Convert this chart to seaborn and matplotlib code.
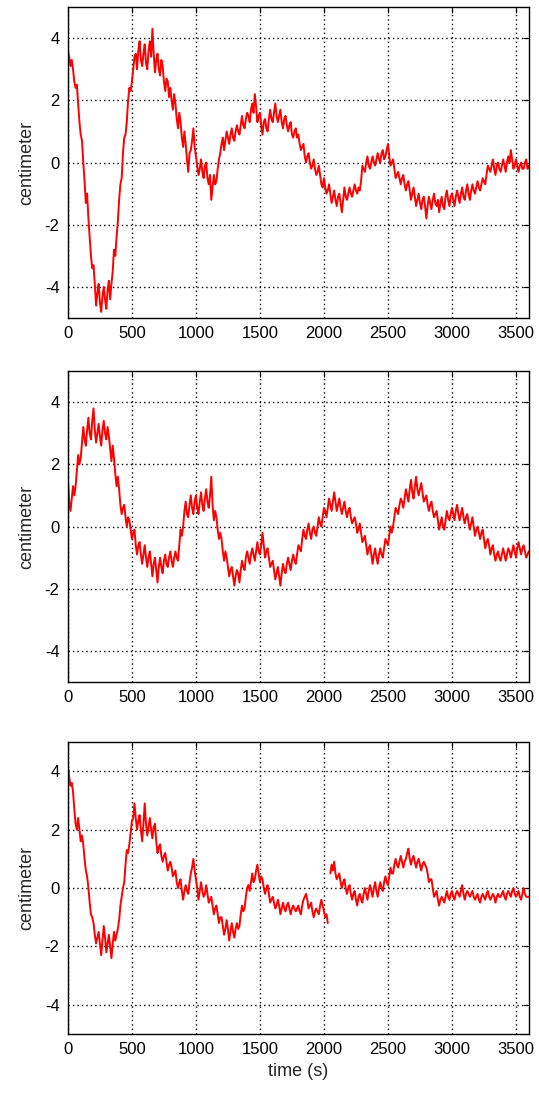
import numpy as np
import pandas as pd
import seaborn as sns
import matplotlib.pyplot as plt

# time axis: one reading every 10 s, 0 .. 3600 s
time_s = list(range(0, 3601, 10))

# displacement readings (cm)
sensor_1 = [
    3.6, 3.4, 3.1, 3.3, 3.0, 2.6, 2.4, 2.5, 1.9, 1.3, 0.9, 0.7, 0.0, -0.6, -1.3, -1.0, -1.8, -2.4, -3.0, -3.4,
    -3.3, -3.9, -4.6, -4.2, -3.9, -4.5, -4.8, -4.3, -4.0, -4.4, -4.7, -4.1, -3.8, -4.4, -3.9, -3.5, -2.8, -3.0, -2.4, -1.9,
    -1.2, -0.7, -0.5, 0.3, 0.8, 0.9, 1.3, 2.0, 2.4, 2.3, 2.6, 3.0, 3.4, 3.5, 3.0, 3.6, 3.9, 3.3, 3.1, 3.5,
    3.8, 3.2, 3.0, 3.6, 3.9, 3.4, 4.3, 3.5, 2.9, 3.3, 3.5, 3.0, 2.8, 3.3, 3.1, 2.6, 2.3, 2.7, 2.6, 2.1,
    2.4, 2.0, 1.7, 2.2, 1.9, 1.4, 1.1, 1.6, 1.3, 0.8, 0.5, 1.0, 0.6, 0.1, -0.3, 0.3, 0.4, 0.7, 1.1, 0.5,
    0.2, -0.1, -0.4, -0.2, 0.1, -0.3, -0.5, -0.1, 0.0, -0.5, -0.7, -0.4, -1.2, -0.8, -0.4, -0.7, -0.6, -0.2, 0.1, 0.3,
    0.6, 0.8, 0.4, 0.7, 1.0, 0.8, 0.6, 0.9, 1.1, 0.8, 0.7, 1.0, 1.2, 1.0, 0.9, 1.2, 1.5, 1.2, 1.1, 1.4,
    1.6, 1.5, 1.3, 1.7, 1.9, 1.6, 2.2, 1.8, 1.3, 1.5, 1.6, 1.2, 0.9, 1.3, 1.4, 1.1, 1.0, 1.4, 1.7, 1.4,
    1.3, 1.6, 1.9, 1.5, 1.3, 1.5, 1.7, 1.3, 1.1, 1.4, 1.5, 1.2, 1.0, 1.2, 1.3, 0.9, 0.8, 1.0, 1.1, 0.8,
    0.9, 0.6, 0.4, 0.5, 0.6, 0.2, 0.0, 0.2, 0.3, 0.0, -0.2, -0.1, 0.1, -0.2, -0.4, -0.3, -0.1, -0.4, -0.7, -0.8,
    -0.5, -0.8, -1.0, -0.9, -0.7, -1.0, -1.3, -1.1, -0.9, -1.2, -1.4, -1.1, -1.0, -1.3, -1.6, -1.2, -0.8, -1.1, -1.2, -1.0,
    -0.8, -1.0, -1.1, -0.9, -0.7, -0.9, -1.0, -0.8, -0.9, -0.6, -0.1, -0.2, -0.3, 0.0, 0.2, -0.1, -0.2, 0.0, 0.2, 0.0,
    -0.1, 0.1, 0.3, 0.1, 0.0, 0.3, 0.4, 0.1, 0.2, 0.4, 0.6, 0.2, -0.1, 0.0, 0.1, -0.2, -0.5, -0.4, -0.3, -0.5,
    -0.7, -0.5, -0.4, -0.7, -0.9, -0.7, -0.6, -0.9, -1.2, -1.0, -0.8, -1.1, -1.4, -1.2, -1.0, -1.3, -1.5, -1.2, -1.1, -1.4,
    -1.8, -1.4, -1.1, -1.3, -1.5, -1.2, -1.0, -1.3, -1.4, -1.2, -1.6, -1.3, -1.1, -1.4, -1.5, -1.1, -0.9, -1.2, -1.4, -1.1,
    -1.0, -1.2, -1.4, -1.1, -0.9, -1.1, -1.3, -1.0, -0.8, -1.1, -1.2, -0.9, -0.7, -1.0, -1.2, -0.9, -0.7, -0.9, -1.0, -0.8,
    -0.6, -0.8, -0.9, -0.7, -0.5, -0.6, -0.7, -0.4, -0.1, -0.2, -0.3, -0.1, 0.1, -0.2, -0.4, -0.1, 0.0, -0.2, -0.3, -0.1,
    0.1, -0.1, -0.3, 0.0, 0.2, 0.0, 0.4, 0.1, -0.2, -0.1, 0.1, -0.1, -0.3, -0.1, 0.0, -0.2, -0.2, 0.0, 0.1, -0.2,
    -0.1,
]

sensor_2 = [
    1.5, 0.8, 0.5, 0.9, 1.3, 1.0, 1.3, 1.8, 2.3, 2.0, 2.2, 2.7, 3.2, 2.8, 2.6, 3.1, 3.5, 3.0, 2.8, 3.4,
    3.8, 3.1, 2.7, 3.0, 3.3, 2.9, 2.6, 3.1, 3.4, 3.0, 2.8, 3.2, 2.9, 2.5, 2.1, 2.6, 2.2, 1.7, 1.3, 1.6,
    1.2, 0.7, 0.4, 0.6, 0.7, 0.3, 0.0, 0.3, 0.2, -0.1, -0.4, -0.2, -0.1, -0.6, -0.9, -0.6, -0.5, -0.9, -1.2, -0.9,
    -0.6, -1.0, -1.3, -1.0, -0.8, -1.2, -1.6, -1.2, -1.0, -1.4, -1.8, -1.3, -1.0, -1.3, -1.5, -1.1, -0.9, -1.2, -1.3, -1.0,
    -0.8, -1.1, -1.3, -1.0, -0.8, -1.0, -1.1, -0.6, -0.1, -0.3, 0.0, 0.5, 0.8, 0.4, 0.3, 0.7, 1.0, 0.6, 0.4, 0.8,
    1.0, 0.6, 0.4, 0.8, 1.1, 0.7, 0.5, 0.9, 1.2, 0.8, 0.6, 1.0, 1.6, 0.7, 0.2, 0.5, 0.3, -0.1, -0.4, -0.2,
    -0.4, -0.8, -1.1, -0.8, -1.0, -1.3, -1.6, -1.4, -1.3, -1.6, -1.9, -1.6, -1.4, -1.5, -1.8, -1.4, -1.1, -1.3, -1.4, -1.0,
    -0.8, -1.0, -1.2, -0.9, -0.7, -0.9, -1.1, -0.8, -0.5, -0.8, -0.9, -0.6, -0.2, -0.6, -1.0, -0.8, -0.7, -1.0, -1.3, -1.2,
    -1.1, -1.4, -1.7, -1.5, -1.3, -1.6, -1.9, -1.5, -1.2, -1.4, -1.5, -1.2, -1.0, -1.2, -1.4, -1.1, -0.9, -1.1, -1.2, -0.9,
    -0.6, -0.7, -0.8, -0.4, -0.1, -0.3, -0.4, -0.1, 0.1, -0.2, -0.4, -0.1, 0.0, -0.2, -0.3, 0.0, 0.3, 0.1, 0.0, 0.3,
    0.6, 0.5, 0.3, 0.6, 0.9, 0.7, 0.5, 0.8, 1.1, 0.8, 0.5, 0.7, 0.9, 0.6, 0.4, 0.6, 0.8, 0.5, 0.3, 0.5,
    0.6, 0.3, 0.1, 0.2, 0.3, 0.1, -0.2, -0.1, 0.1, -0.2, -0.5, -0.4, -0.3, -0.6, -0.9, -0.7, -0.6, -0.9, -1.2, -0.9,
    -0.7, -1.0, -1.2, -0.9, -0.7, -0.9, -1.0, -0.7, -0.4, -0.5, -0.6, -0.3, 0.0, -0.2, 0.0, 0.3, 0.6, 0.5, 0.4, 0.7,
    0.9, 0.8, 0.6, 0.9, 1.2, 1.0, 0.8, 1.2, 1.5, 1.1, 0.9, 1.3, 1.6, 1.2, 1.0, 1.2, 1.4, 1.1, 0.8, 0.9,
    1.0, 0.7, 0.5, 0.7, 0.8, 0.5, 0.3, 0.4, 0.5, 0.2, -0.1, 0.1, 0.3, 0.0, -0.1, 0.2, 0.5, 0.3, 0.2, 0.4,
    0.6, 0.4, 0.2, 0.5, 0.7, 0.4, 0.2, 0.4, 0.6, 0.3, 0.1, 0.3, 0.4, 0.1, -0.1, 0.1, 0.3, 0.0, -0.3, -0.1,
    0.0, -0.2, -0.4, -0.2, -0.1, -0.4, -0.7, -0.5, -0.4, -0.6, -0.9, -0.7, -0.6, -0.9, -1.1, -0.9, -0.8, -1.0, -1.1, -0.9,
    -0.7, -0.9, -1.1, -0.9, -0.7, -0.8, -1.0, -0.8, -0.6, -0.8, -1.0, -0.7, -0.5, -0.7, -0.9, -0.7, -0.6, -0.8, -1.0, -0.9,
    -0.8,
]

# NaN = missing reading (break in the trace near 2040 s)
sensor_3 = [
    4.2, 3.8, 3.5, 3.6, 3.3, 2.7, 2.2, 2.0, 2.4, 2.0, 1.6, 1.8, 1.5, 1.0, 0.6, 0.4, 0.0, -0.5, -0.9, -1.0,
    -1.2, -1.6, -1.9, -1.7, -1.5, -1.9, -2.3, -1.8, -1.3, -1.7, -2.2, -1.9, -1.6, -2.0, -2.4, -1.9, -1.5, -1.8, -1.6, -1.4,
    -1.1, -0.6, -0.3, 0.0, 0.2, 0.8, 1.3, 1.2, 1.5, 1.9, 2.3, 2.4, 2.9, 2.4, 2.0, 2.3, 2.5, 2.0, 1.6, 2.2,
    2.9, 2.2, 1.8, 2.1, 2.4, 2.0, 1.7, 2.1, 2.2, 1.6, 1.2, 1.4, 1.5, 1.1, 0.9, 1.1, 1.2, 0.9, 0.6, 0.8,
    0.9, 0.7, 0.4, 0.5, 0.6, 0.2, 0.0, 0.2, 0.3, -0.1, -0.4, -0.1, 0.1, -0.1, -0.2, 0.2, 0.5, 0.7, 1.0, 0.6,
    0.3, 0.0, -0.4, -0.1, 0.2, -0.1, -0.3, -0.2, 0.1, -0.2, -0.5, -0.4, -0.3, -0.6, -0.9, -0.7, -0.6, -0.9, -1.2, -1.0,
    -1.0, -1.3, -1.6, -1.4, -1.1, -1.4, -1.8, -1.5, -1.2, -1.5, -1.7, -1.4, -1.2, -1.4, -1.3, -0.9, -0.6, -0.8, -0.7, -0.3,
    0.0, 0.1, -0.1, 0.2, 0.5, 0.2, 0.3, 0.6, 0.8, 0.5, 0.2, 0.4, 0.3, 0.0, -0.2, 0.0, 0.1, -0.2, -0.5, -0.4,
    -0.3, -0.5, -0.7, -0.6, -0.4, -0.6, -0.9, -0.7, -0.5, -0.7, -0.8, -0.6, -0.5, -0.7, -0.9, -0.7, -0.6, -0.7, -0.8, -0.7,
    -0.6, -0.8, -0.9, -0.6, -0.4, -0.3, -0.2, -0.4, -0.7, -0.6, -0.5, -0.8, -1.0, -0.8, -0.7, -0.8, -0.9, -0.6, -0.4, -0.6,
    -0.8, -1.0, -0.9, -1.2, np.nan, 0.5, 0.8, 0.6, 0.9, 0.5, 0.3, 0.4, 0.5, 0.2, 0.0, 0.2, 0.3, 0.0, -0.2, 0.0,
    0.1, -0.2, -0.4, -0.2, -0.1, -0.4, -0.6, -0.3, -0.2, -0.4, -0.5, -0.2, 0.0, -0.2, -0.4, -0.1, 0.1, -0.1, -0.3, 0.0,
    0.2, -0.1, -0.3, 0.0, 0.2, 0.0, -0.1, 0.2, 0.4, 0.2, 0.1, 0.4, 0.7, 0.5, 0.5, 0.8, 1.0, 0.8, 0.7, 0.9,
    1.1, 0.9, 0.7, 0.9, 1.0, 1.2, 1.35, 1.0, 0.8, 1.0, 1.1, 0.9, 0.7, 0.9, 1.0, 0.8, 0.6, 0.8, 0.9, 0.8,
    0.7, 0.5, 0.2, 0.3, 0.3, 0.0, -0.3, -0.2, -0.1, -0.4, -0.6, -0.4, -0.3, -0.4, -0.5, -0.3, -0.1, -0.3, -0.4, -0.2,
    -0.1, -0.3, -0.4, -0.2, -0.1, -0.2, -0.3, -0.1, 0.1, -0.2, -0.4, -0.2, -0.1, -0.2, -0.3, -0.2, -0.1, -0.3, -0.4, -0.3,
    -0.2, -0.4, -0.5, -0.3, -0.2, -0.3, -0.4, -0.2, -0.1, -0.3, -0.4, -0.3, -0.2, -0.3, -0.5, -0.3, -0.2, -0.3, -0.3, -0.2,
    -0.1, -0.3, -0.4, -0.2, -0.1, -0.2, -0.3, -0.1, 0.0, -0.2, -0.3, -0.2, -0.1, -0.3, -0.4, -0.2, 0.0, -0.2, -0.3, -0.3,
    -0.3,
]

x_ticks = [0, 500, 1000, 1500, 2000, 2500, 3000, 3500]
y_ticks = [-4, -2, 0, 2, 4]

# MATLAB-like look: boxed axes, inward ticks on all sides, dotted grid
sns.set_theme(style="white")
plt.rcParams['font.family'] = ['Liberation Sans', 'DejaVu Sans']
plt.rcParams.update({
    'axes.unicode_minus': False,
    'xtick.direction': 'in', 'ytick.direction': 'in',
    'xtick.top': True, 'ytick.right': True,
    'xtick.major.size': 4, 'ytick.major.size': 4,
    'xtick.major.width': 0.8, 'ytick.major.width': 0.8,
    'xtick.color': 'black', 'ytick.color': 'black',
    'axes.edgecolor': 'black', 'axes.linewidth': 1.0,
})

fig = plt.figure(figsize=(5.39, 10.99), dpi=100)

# [left, bottom, width, height] in figure fractions
boxes = [
    [0.126, 0.7106, 0.855, 0.283],
    [0.126, 0.3794, 0.855, 0.283],
    [0.126, 0.0591, 0.855, 0.2657],
]

for i, (box, values) in enumerate(zip(boxes, [sensor_1, sensor_2, sensor_3])):
    ax = fig.add_axes(box)
    df = pd.DataFrame({'t': time_s, 'cm': values})
    # split into pieces at missing readings so the trace shows a break
    df['seg'] = df['cm'].isna().cumsum()
    df = df.dropna()
    sns.lineplot(data=df, x='t', y='cm', units='seg', estimator=None,
                 color='#ff0000', linewidth=1.4, ax=ax)

    ax.set_xlim(0, 3600)
    ax.set_ylim(-5, 5)
    ax.set_xticks(x_ticks)
    ax.set_yticks(y_ticks)
    ax.grid(True, color='black', linestyle=(0, (1, 2.2)), linewidth=1.0)
    ax.tick_params(labelsize=12, pad=6)
    ax.set_ylabel('centimeter', fontsize=13, labelpad=7)
    ax.set_xlabel('time (s)' if i == 2 else '', fontsize=13)
    for s in ax.spines.values():
        s.set_visible(True)
        s.set_color('black')

fig.savefig('out.png', dpi=100)
